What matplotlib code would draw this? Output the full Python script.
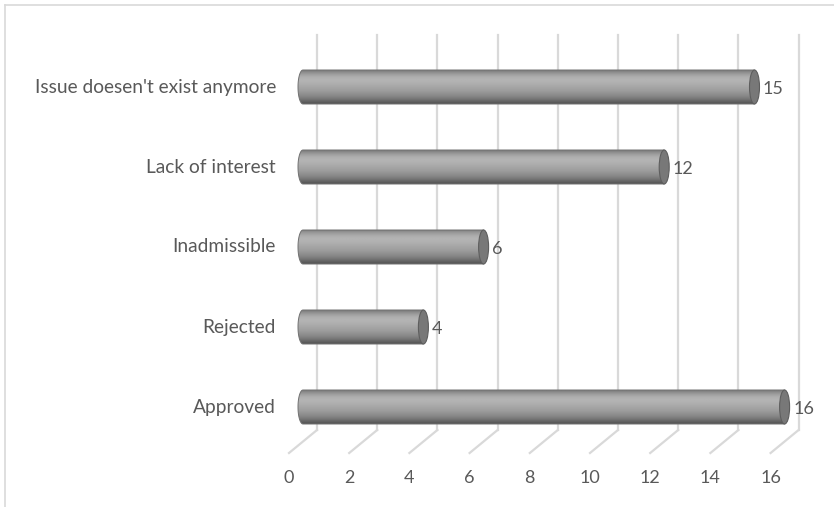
import matplotlib.pyplot as plt
import numpy as np
from matplotlib.patches import Ellipse, PathPatch
from matplotlib.path import Path
from matplotlib.lines import Line2D
import matplotlib.transforms as mtransforms

# dados
categorias = ['Approved', 'Rejected', 'Inadmissible', 'Lack of interest',
              "Issue doesen't exist anymore"]
valores = [16, 4, 6, 12, 15]
ticks = [0, 2, 4, 6, 8, 10, 12, 14, 16]

W, H = 834, 507
fig = plt.figure(figsize=(W / 100, H / 100), dpi=100)

# eixo: x=0 no pixel 303, x=16 no pixel 784.6 ; y em categorias
px_unit = 30.1
x0_px = 303
left = x0_px / W
width = 16 * px_unit / W
y_bot_px, y_top_px = 453, 35          # pixels a partir do topo
bottom = (H - y_bot_px) / H
height = (y_bot_px - y_top_px) / H
ax = fig.add_axes([left, bottom, width, height])
cat_px = 80.0
ylo = (407 - y_bot_px) / cat_px
yhi = (407 - y_top_px) / cat_px
ax.set_xlim(0, 16)
ax.set_ylim(ylo, yhi)
ax.axis('off')

cinza_grade = '#d9d9d9'
cor_texto = '#595959'
fonte = 'Lato'

dx = mtransforms.ScaledTranslation(14 / 100, 0, fig.dpi_scale_trans)
dy_piso = (430 - 407) / cat_px       # base da parede de fundo
y_frente = ylo
y_fundo = -dy_piso

# grade vertical (parede de fundo) e linhas do piso
for t in ticks:
    ax.plot([t, t], [y_fundo, yhi], color=cinza_grade, lw=1.6,
            transform=ax.transData + dx, clip_on=False, zorder=1)
    # diagonal do piso: de (t+14px, fundo) para (t-14px, frente)
    pa = (ax.transData + dx).transform((t, y_fundo))
    pb = (ax.transData - dx).transform((t, y_frente))
    fig.add_artist(Line2D([pa[0], pb[0]], [pa[1], pb[1]], color=cinza_grade,
                          lw=1.6, transform=None, zorder=1))
    ax.text(t, ylo - 25 / cat_px, str(t), transform=ax.transData - dx,
            ha='center', va='center', fontsize=13, color=cor_texto,
            family=fonte, clip_on=False)

# cilindros
h = 34 / cat_px
rx = 5 / px_unit
grad = np.array([0.50, 0.58, 0.64, 0.68, 0.70, 0.70, 0.69, 0.67, 0.65,
                 0.63, 0.61, 0.58, 0.55, 0.51, 0.46, 0.40, 0.34])
img = np.tile(grad[:, None], (1, 2))
for i, (cat, v) in enumerate(zip(categorias, valores)):
    yc = i
    ang = np.linspace(np.pi / 2, 3 * np.pi / 2, 40)
    xs = list(rx * np.cos(ang)) + [v, v]
    ys = list(yc + h / 2 * np.sin(ang)) + [yc - h / 2, yc + h / 2]
    verts = list(zip(xs, ys)) + [(xs[0], ys[0])]
    codes = [Path.MOVETO] + [Path.LINETO] * (len(verts) - 2) + [Path.CLOSEPOLY]
    corpo = PathPatch(Path(verts, codes), facecolor='none',
                      edgecolor='#707070', lw=0.7, zorder=4, clip_on=False)
    ax.add_patch(corpo)
    im = ax.imshow(img, extent=(-rx, v, yc - h / 2, yc + h / 2),
                   cmap='gray', vmin=0, vmax=1, aspect='auto',
                   interpolation='bilinear', zorder=3)
    im.set_clip_box(fig.bbox)
    im.set_clip_path(corpo)
    tampa = Ellipse((v, yc), width=2 * rx, height=h, facecolor='#787878',
                    edgecolor='#5e5e5e', lw=0.8, zorder=5, clip_on=False)
    ax.add_patch(tampa)
    ax.text(v + rx + 3.5 / px_unit, yc - 0.02, str(v), ha='left',
            va='center', fontsize=13, color=cor_texto, family=fonte, zorder=6)
    ax.text(-27 / px_unit, yc, cat, ha='right', va='center', fontsize=13.8,
            color=cor_texto, family=fonte, clip_on=False)

ax.set_xlim(0, 16)
ax.set_ylim(ylo, yhi)

# borda do gráfico (esquerda e topo)
fig.add_artist(Line2D([5 / W, 5 / W], [0, 1 - 5 / H], color='#d9d9d9',
                      lw=1.2, transform=fig.transFigure))
fig.add_artist(Line2D([5 / W, 1], [1 - 5 / H, 1 - 5 / H], color='#d9d9d9',
                      lw=1.2, transform=fig.transFigure))

fig.savefig('out.png', dpi=100)
